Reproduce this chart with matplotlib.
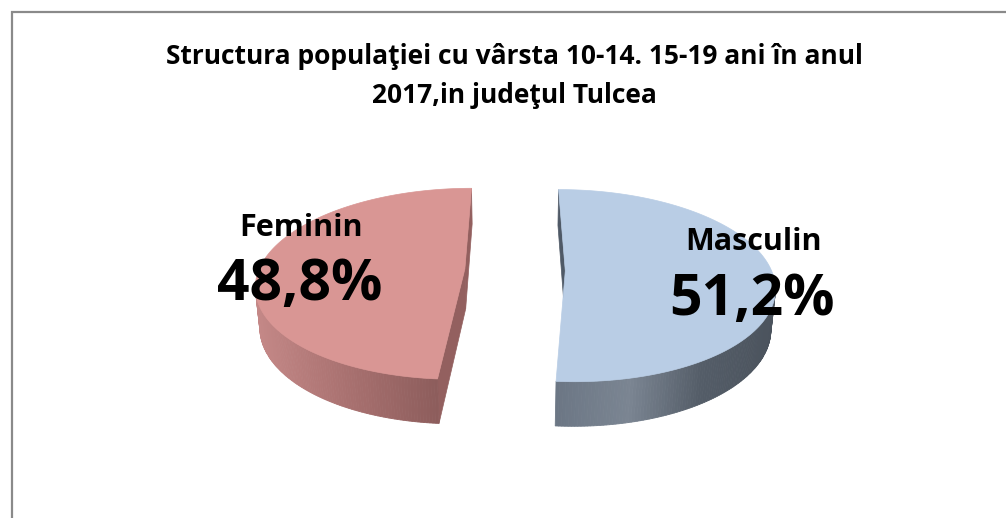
import numpy as np
import matplotlib
matplotlib.use("Agg")
import matplotlib.pyplot as plt
from matplotlib.colors import LinearSegmentedColormap
from matplotlib.patches import Polygon

plt.rcParams["font.family"] = ["Open Sans", "DejaVu Sans"]

# ---------------------------------------------------------------------------
# Data
# ---------------------------------------------------------------------------

TITLE = "Structura populaţiei cu vârsta 10-14. 15-19 ani în anul\n2017,in judeţul Tulcea"
labels = ["Masculin", "Feminin"]
values = [51.2, 48.8]
pct_text = ["51,2%", "48,8%"]

top_colors = ["#B9CDE5", "#D99694"]
side_maps = [
    LinearSegmentedColormap.from_list("m", ["#4B535D", "#545D68", "#7B8592", "#6C7785"]),
    LinearSegmentedColormap.from_list("f", ["#C48887", "#A97170", "#8D5D5C"]),
]
face_colors = ["#4F5966", "#93605F"]

# ---------------------------------------------------------------------------
# 3D projection helpers (pie in unit radius, pixel output)
# ---------------------------------------------------------------------------

PHI = np.radians(27)
DIST = 5.8
THICK = 0.22
EXPLODE = 0.244
S = 206
PX0, PY0 = 515, 270
CAM = np.array([0.0, -DIST * np.cos(PHI), DIST * np.sin(PHI)])


def project(X, Y, Z):
    w = -Y * np.cos(PHI) + Z * np.sin(PHI)
    s = DIST / (DIST - w)
    sx = X * s
    sy = (Y * np.sin(PHI) + Z * np.cos(PHI)) * s
    return PX0 + S * sx, PY0 - S * sy


def visible(normal, point):
    return np.dot(normal, CAM - point) > 0


fig = plt.figure(figsize=(10.06, 5.18), dpi=100)
ax = fig.add_axes([0, 0, 1, 1])
ax.set_xlim(0, 1006)
ax.set_ylim(518, 0)
ax.axis("off")

# chart area border (runs off the right and bottom)
ax.plot([12, 12, 1010], [522, 12, 12], color="#8A8A8A", linewidth=1.6,
        solid_joinstyle="miter")

fracs = np.array(values) / sum(values)
bounds = np.concatenate([[0], np.cumsum(fracs)]) * 2 * np.pi

for i in range(len(values)):
    t0, t1 = bounds[i], bounds[i + 1]
    mid = (t0 + t1) / 2
    ox, oy = EXPLODE * np.sin(mid), EXPLODE * np.cos(mid)
    ts = np.linspace(t0, t1, 240)
    X = ox + np.sin(ts)
    Y = oy + np.cos(ts)

    # radial faces
    for t, nang in [(t0, t0 - np.pi / 2), (t1, t1 + np.pi / 2)]:
        n = np.array([np.sin(nang), np.cos(nang), 0])
        q = np.array([ox + 0.5 * np.sin(t), oy + 0.5 * np.cos(t), -THICK / 2])
        if visible(n, q):
            xs = [ox, ox + np.sin(t), ox + np.sin(t), ox]
            ys = [oy, oy + np.cos(t), oy + np.cos(t), oy]
            zs = [0, 0, -THICK, -THICK]
            px, py = project(np.array(xs), np.array(ys), np.array(zs))
            ax.add_patch(Polygon(np.column_stack([px, py]), closed=True,
                                 facecolor=face_colors[i], edgecolor=face_colors[i],
                                 linewidth=0.5))

    # outer side
    tx, ty = project(X, Y, np.zeros_like(X))
    bx, by = project(X, Y, np.full_like(X, -THICK))
    vis = [visible(np.array([np.sin(t), np.cos(t), 0]),
                   np.array([X[k], Y[k], -THICK / 2])) for k, t in enumerate(ts)]
    idx = [k for k in range(len(ts) - 1) if vis[k] and vis[k + 1]]
    if idx:
        xmin, xmax = tx[idx].min(), tx[idx].max()
        for k in idx:
            f = (tx[k] - xmin) / max(xmax - xmin, 1)
            if i == 0:
                f = 1 - f
            c = side_maps[i](f)
            quad = [(tx[k], ty[k]), (tx[k + 1], ty[k + 1]),
                    (bx[k + 1], by[k + 1]), (bx[k], by[k])]
            ax.add_patch(Polygon(quad, closed=True, facecolor=c, edgecolor=c,
                                 linewidth=0.6))

    # top face
    cx, cy = project(np.array([ox]), np.array([oy]), np.array([0.0]))
    top = np.column_stack([np.concatenate([cx, tx]), np.concatenate([cy, ty])])
    ax.add_patch(Polygon(top, closed=True, facecolor=top_colors[i],
                         edgecolor=top_colors[i], linewidth=0.5))

# ---------------------------------------------------------------------------
# Text
# ---------------------------------------------------------------------------

ax.text(514, 76, TITLE, ha="center", va="center", fontsize=19,
        fontweight="bold", linespacing=1.6, color="black")

label_pos = [(754, 242), (301, 228)]
pct_pos = [(752, 300), (300, 285)]
for i in range(len(values)):
    ax.text(*label_pos[i], labels[i], ha="center", va="center",
            fontsize=22, fontweight="bold", color="black")
    ax.text(*pct_pos[i], pct_text[i], ha="center", va="center",
            fontsize=41, fontweight="bold", color="black")

fig.savefig("out.png", dpi=100, facecolor="white")
